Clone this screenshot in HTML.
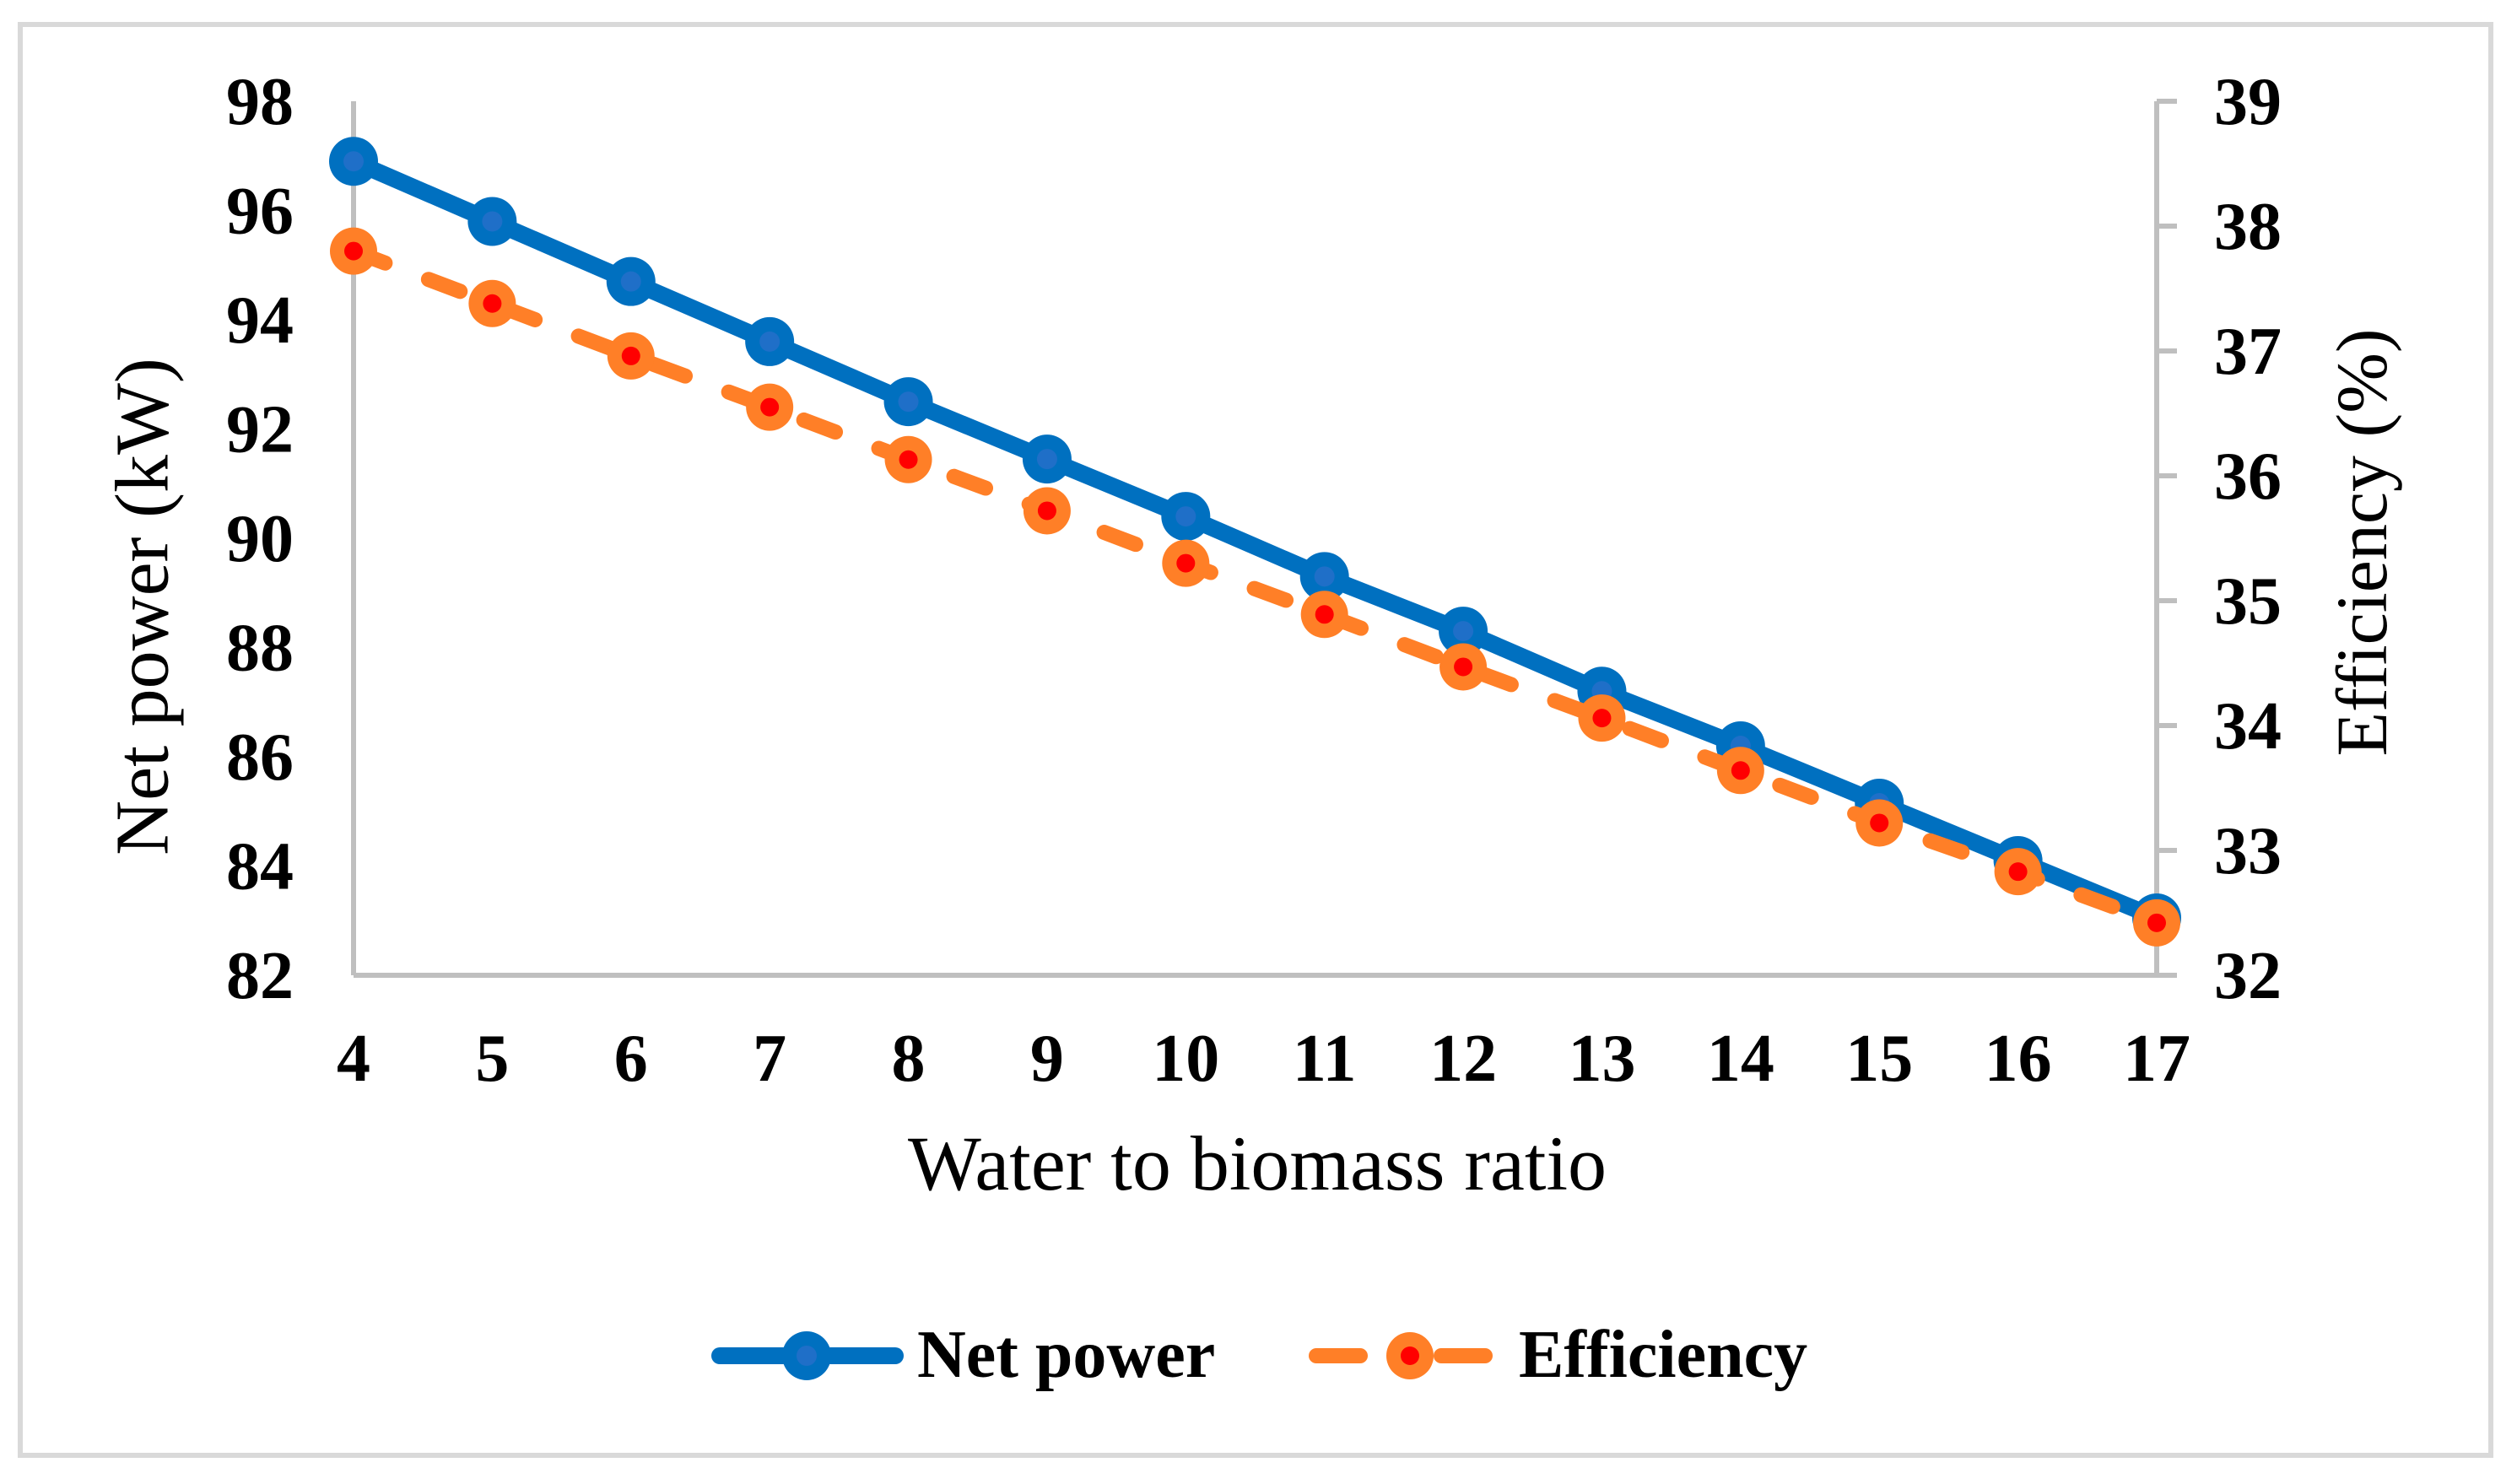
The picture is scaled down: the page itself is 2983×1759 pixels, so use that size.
<!DOCTYPE html>
<html><head><meta charset="utf-8"><style>
html,body{margin:0;padding:0;background:#fff;}
svg{display:block;}
text{font-family:"Liberation Serif",serif;fill:#000;}
</style></head><body>
<svg id="chart" width="2983" height="1759" viewBox="0 0 2983 1759">
<rect x="24" y="29" width="2928" height="1696" fill="#fff" stroke="#d9d9d9" stroke-width="6"/>
<g id="axes"></g>
<g id="series"></g>
<text x="169" y="719" font-size="90" text-anchor="middle" dominant-baseline="central" transform="rotate(-90 169 719)">Net power (kW)</text>
<text x="2799" y="643" font-size="86" text-anchor="middle" dominant-baseline="central" transform="rotate(-90 2799 643)">Efficiency (%)</text>
<text x="1490" y="1410" font-size="92" text-anchor="middle">Water to biomass ratio</text>
<g>
 <g>
  <line x1="853" y1="1607" x2="1061" y2="1607" stroke="#0070c0" stroke-width="20" stroke-linecap="round"/>
  <circle cx="956" cy="1607" r="29" fill="#0070c0"/>
  <circle cx="956" cy="1607" r="12" fill="#1f6fc8"/>
  <text x="1087" y="1632" font-size="80" font-weight="bold">Net power</text>
 </g>
 <g>
  <line x1="1560" y1="1607" x2="1612" y2="1607" stroke="#ff7f27" stroke-width="18" stroke-linecap="round"/>
  <line x1="1708" y1="1607" x2="1760" y2="1607" stroke="#ff7f27" stroke-width="18" stroke-linecap="round"/>
  <circle cx="1671" cy="1607" r="28" fill="#ff7f27"/>
  <circle cx="1671" cy="1607" r="11" fill="#ff0000"/>
  <text x="1800" y="1632" font-size="80" font-weight="bold">Efficiency</text>
 </g>
</g>
</svg>
<script>
const categories = [4,5,6,7,8,9,10,11,12,13,14,15,16,17];
const netPower = [96.9,95.8,94.7,93.6,92.5,91.45,90.4,89.3,88.3,87.2,86.2,85.15,84.1,83.05];
const efficiency = [37.8,37.38,36.96,36.55,36.13,35.72,35.3,34.89,34.47,34.06,33.64,33.22,32.83,32.42];
const leftTicks = [82,84,86,88,90,92,94,96,98];
const rightTicks = [32,33,34,35,36,37,38,39];

const NS = 'http://www.w3.org/2000/svg';
const X0 = 419, X1 = 2556, YT = 120, YB = 1156;
function xPos(i){ return X0 + (X1 - X0) * i / (categories.length - 1); }
function yLeft(v){ return YB - (v - 82) / (98 - 82) * (YB - YT); }
function yRight(v){ return YB - (v - 32) / (39 - 32) * (YB - YT); }
function mk(tag, attrs, parent){
  const e = document.createElementNS(NS, tag);
  for (const k in attrs) e.setAttribute(k, attrs[k]);
  parent.appendChild(e);
  return e;
}
const axes = document.getElementById('axes');
const series = document.getElementById('series');

let el = mk('line', {x1:X0, y1:YT, x2:X0, y2:YB, stroke:'#bfbfbf', 'stroke-width':6}, axes);


el = mk('line', {x1:X0, y1:YB, x2:X1+24, y2:YB, stroke:'#bfbfbf', 'stroke-width':6}, axes);


el = mk('line', {x1:X1, y1:YT, x2:X1, y2:YB, stroke:'#bfbfbf', 'stroke-width':6}, axes);



leftTicks.forEach(v => {
  const t = mk('text', {x:348, y:yLeft(v)+27, 'font-size':80, 'font-weight':'bold', 'text-anchor':'end'}, axes);
  t.textContent = v;
  
  
});
rightTicks.forEach(v => {
  const tk = mk('line', {x1:X1, y1:yRight(v), x2:X1+24, y2:yRight(v), stroke:'#bfbfbf', 'stroke-width':6}, axes);
  
  
  const t = mk('text', {x:2624, y:yRight(v)+27, 'font-size':80, 'font-weight':'bold'}, axes);
  t.textContent = v;
  
  
});
categories.forEach((c, i) => {
  const t = mk('text', {x:xPos(i), y:1281, 'font-size':80, 'font-weight':'bold', 'text-anchor':'middle'}, axes);
  t.textContent = c;
  
  
});

let pts = netPower.map((v, i) => xPos(i) + ',' + yLeft(v)).join(' ');
el = mk('polyline', {points:pts, fill:'none', stroke:'#0070c0', 'stroke-width':20, 'stroke-linejoin':'round'}, series);


netPower.forEach((v, i) => {
  const m = mk('circle', {cx:xPos(i), cy:yLeft(v), r:29, fill:'#0070c0'}, series);
  
  
  const m2 = mk('circle', {cx:xPos(i), cy:yLeft(v), r:12, fill:'#1f6fc8'}, series);
  
  
});

pts = efficiency.map((v, i) => xPos(i) + ',' + yRight(v)).join(' ');
el = mk('polyline', {points:pts, fill:'none', stroke:'#ff7f27', 'stroke-width':18, 'stroke-linecap':'round', 'stroke-dasharray':'40 55'}, series);


efficiency.forEach((v, i) => {
  const m = mk('circle', {cx:xPos(i), cy:yRight(v), r:28, fill:'#ff7f27'}, series);
  
  
  const m2 = mk('circle', {cx:xPos(i), cy:yRight(v), r:11, fill:'#ff0000'}, series);
  
  
});
</script>
</body></html>
